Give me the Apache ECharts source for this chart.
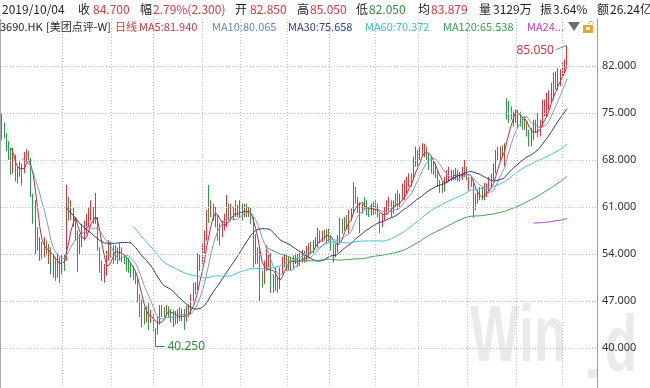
<!DOCTYPE html>
<html><head><meta charset="utf-8">
<script src="https://cdn.jsdelivr.net/npm/echarts@6/dist/echarts.min.js"></script>
<style>html,body{margin:0;padding:0;background:#fff}#c{width:650px;height:388px}</style>
</head><body><div id="c"></div>
<script>
// ---- daily candles, 2018/09/20 .. 2019/10/04 ----
const openP = [
74.0,72.8,71.5,70.0,68.5,66.5,68.5,65.5,66.2,67.0,
66.5,68.5,69.2,68.0,62.5,59.0,56.5,54.2,54.5,54.0,
55.0,54.0,54.5,52.0,53.0,52.5,53.0,52.0,53.5,53.0,
61.0,59.8,60.5,59.0,57.0,54.5,55.5,56.5,57.5,58.5,
59.5,60.5,59.0,59.0,54.5,51.5,50.5,51.0,53.5,55.0,
54.5,54.0,54.5,53.5,54.5,53.5,53.0,52.5,52.0,51.5,
51.0,50.0,47.5,45.5,45.2,44.0,45.5,44.2,45.0,40.8,
42.5,44.0,46.0,45.5,45.0,46.0,45.5,44.5,45.0,44.0,
45.0,44.5,45.5,44.2,46.0,45.0,47.5,48.5,49.0,52.0,
53.0,54.5,56.5,62.0,60.0,61.0,60.5,59.5,58.0,57.0,
58.0,59.0,60.5,59.5,60.0,59.5,60.5,60.0,61.0,60.0,
60.5,60.0,60.5,59.0,53.0,54.5,53.0,51.0,50.0,52.0,
52.5,53.0,50.5,49.5,50.0,49.0,51.5,53.0,53.5,52.5,
53.0,52.0,53.0,53.5,52.5,53.5,54.0,53.0,54.5,55.0,
54.5,55.5,56.0,57.0,56.0,57.0,56.5,57.5,56.5,55.5,
54.0,54.5,56.0,58.5,58.0,59.0,58.5,59.5,60.0,63.5,
62.0,58.5,60.5,62.0,61.5,60.5,60.0,61.5,60.5,61.0,
60.0,58.5,59.5,60.5,61.0,61.5,60.5,61.5,62.0,61.5,
62.5,63.0,63.5,64.5,65.5,65.0,67.5,68.5,68.0,69.0,
68.8,69.5,69.0,67.5,67.0,66.5,66.0,64.5,64.0,63.5,
65.0,65.5,66.0,65.8,65.5,66.0,65.0,65.5,66.0,66.5,
64.5,65.0,64.5,61.5,62.0,62.5,63.5,62.5,63.0,63.5,
64.5,65.0,66.5,68.5,69.0,70.0,69.3,77.0,76.5,75.5,
74.0,75.0,74.5,75.0,74.0,73.5,73.5,72.0,71.0,71.5,
72.5,74.0,72.5,73.0,75.0,75.5,76.0,77.0,78.0,79.0,
80.0,80.0,80.5,81.8,82.85];
const closeP = [
72.5,71.8,70.0,68.5,66.2,69.0,65.2,66.0,67.0,66.5,
68.8,69.0,68.5,63.0,59.5,57.0,55.5,54.5,54.0,55.5,
54.5,54.5,52.0,53.0,52.5,53.0,52.0,53.5,52.5,61.0,
60.0,60.5,59.0,57.0,54.5,55.5,56.5,57.5,58.5,59.5,
60.5,59.0,60.5,55.0,51.5,50.5,51.0,53.5,55.0,54.5,
54.0,54.5,53.5,54.5,53.5,53.0,52.5,52.0,51.5,51.0,
50.0,47.5,45.5,45.0,44.0,45.5,44.5,45.0,43.0,42.0,
44.0,45.0,45.5,45.0,46.0,45.5,44.5,45.0,44.0,45.0,
44.5,45.5,44.0,46.0,45.0,47.5,48.5,49.0,52.0,53.0,
54.5,56.5,59.5,60.0,61.0,60.5,59.5,58.0,57.0,58.0,
59.0,60.5,59.5,60.0,59.5,60.5,60.0,61.0,60.0,60.5,
60.0,60.5,59.0,55.0,54.5,53.0,51.0,50.0,52.0,52.5,
53.0,50.5,49.5,50.0,49.0,51.5,53.0,53.5,53.0,53.0,
52.0,53.0,53.5,52.5,53.5,54.0,53.0,54.5,55.0,54.5,
55.5,56.0,57.0,56.0,57.0,56.5,57.5,56.5,55.5,54.0,
54.5,56.0,58.5,58.0,59.0,58.5,59.5,60.0,64.0,62.0,
61.0,60.5,61.0,61.5,60.5,60.0,61.0,60.5,61.0,60.0,
58.5,59.5,60.5,61.0,61.5,60.5,61.5,62.0,61.5,62.5,
63.0,63.5,64.5,65.5,65.0,67.5,68.5,68.0,69.0,70.0,
69.5,69.0,67.5,67.0,66.5,66.0,64.5,64.0,63.5,65.0,
66.0,66.0,65.5,65.5,66.0,65.5,65.5,66.0,66.5,66.0,
65.0,64.5,61.5,62.0,62.5,63.0,63.0,63.0,63.5,64.5,
65.0,66.5,68.5,69.0,69.5,69.5,70.0,76.0,75.5,75.0,
75.0,74.5,75.0,74.0,73.5,74.0,72.0,71.0,71.5,72.5,
73.6,72.5,73.0,75.0,76.0,76.0,77.2,78.3,79.2,80.25,
80.2,80.6,81.8,82.4,84.7];
const lowP = [
71.0,71.2,69.3,68.0,65.8,66.0,64.8,64.5,65.5,64.2,
66.0,67.8,68.0,62.5,58.5,54.0,54.5,53.0,53.2,53.5,
53.8,52.5,51.0,50.5,50.0,50.5,49.7,51.0,51.5,53.0,
59.0,59.0,58.0,56.0,51.3,54.0,55.0,56.0,57.0,58.0,
59.0,58.5,58.5,54.5,51.2,50.0,49.7,50.8,53.0,53.5,
52.5,53.0,52.5,53.0,52.8,52.5,51.4,51.2,50.5,50.1,
49.5,46.8,44.6,43.1,43.5,43.8,42.7,43.7,42.5,40.25,
42.0,43.5,44.6,44.6,44.8,44.5,43.8,43.1,43.5,43.6,
44.0,44.0,42.7,43.9,44.6,45.0,47.0,48.0,48.6,51.5,
52.5,54.1,56.0,58.6,59.5,59.0,58.0,56.0,55.3,56.5,
57.5,58.0,59.0,59.0,59.0,59.5,59.5,59.5,59.0,59.5,
59.5,59.5,58.5,52.0,52.5,52.5,47.0,49.0,49.5,51.5,
52.0,48.2,48.2,48.5,48.2,48.8,51.0,52.0,51.6,51.6,
51.6,51.8,52.5,52.0,52.2,52.7,52.7,52.8,53.6,54.0,
54.1,55.0,55.0,55.6,55.8,56.0,55.6,55.8,54.5,52.7,
53.5,54.2,55.6,57.0,57.5,57.8,57.1,59.0,60.0,61.5,
60.1,57.1,60.0,60.5,59.8,59.5,59.7,59.8,60.0,59.5,
57.1,58.0,59.0,60.0,60.5,59.5,60.0,61.0,60.6,61.0,
62.0,62.0,63.0,64.0,64.0,65.0,67.0,67.0,68.0,68.5,
68.4,68.0,66.5,66.0,65.8,65.3,64.0,63.1,63.1,63.3,
64.6,65.0,64.8,65.0,65.0,64.8,64.8,65.0,65.5,65.0,
63.5,64.0,59.4,60.5,61.5,62.0,62.0,62.0,62.5,63.1,
64.0,65.0,66.0,68.0,68.0,68.5,67.0,74.0,73.5,74.0,
73.0,73.5,72.8,73.0,72.5,72.5,71.5,70.0,70.0,71.0,
72.0,71.4,71.5,73.0,74.5,74.4,75.5,76.5,77.0,78.5,
78.4,79.0,80.4,81.0,82.05];
const highP = [
74.9,73.6,72.0,70.8,69.8,69.8,68.8,67.0,67.8,67.5,
69.2,69.6,69.4,68.3,63.0,62.0,58.0,56.5,55.8,56.5,
56.0,55.5,55.0,54.0,53.5,54.1,53.5,54.0,54.0,64.3,
62.5,62.0,61.0,59.5,57.5,57.0,58.5,59.0,60.0,61.0,
62.0,61.0,63.1,59.5,55.0,53.0,52.5,54.5,56.1,55.8,
55.3,55.3,55.0,55.6,55.0,54.0,53.6,53.4,52.7,52.2,
51.5,50.6,48.0,47.2,46.0,46.2,46.7,45.7,45.2,43.0,
44.6,46.4,46.4,46.1,46.4,46.2,45.8,45.6,45.5,45.8,
46.1,45.9,45.8,46.3,46.5,48.0,49.7,49.8,54.1,54.0,
55.6,57.5,60.6,64.3,62.0,61.5,61.0,59.8,58.6,59.0,
60.0,62.8,61.5,61.5,61.0,62.0,61.3,62.0,61.5,61.5,
61.5,61.0,61.0,59.5,57.0,55.0,55.0,51.5,53.0,55.3,
54.0,54.1,51.0,52.0,50.5,52.0,53.6,54.0,53.9,53.6,
53.6,53.8,54.1,54.0,54.2,54.6,54.5,55.2,55.6,55.8,
56.1,56.5,57.9,57.5,57.5,57.6,57.7,57.8,56.8,55.6,
55.5,56.8,59.4,59.2,59.5,59.8,60.6,60.8,64.7,64.0,
62.5,61.7,61.5,62.5,62.0,61.0,61.5,61.8,62.0,61.5,
60.1,60.0,61.0,62.0,62.5,62.0,62.0,63.0,63.5,63.0,
64.5,65.0,65.5,66.0,66.0,68.5,70.0,69.5,70.0,70.5,
70.4,70.0,69.0,68.5,68.0,67.5,66.5,65.0,64.8,65.5,
66.5,67.0,66.5,66.5,66.8,66.5,66.2,67.0,68.0,67.0,
65.5,65.5,65.0,63.0,63.5,64.0,64.0,64.6,64.5,65.5,
66.0,67.5,69.5,70.0,70.0,70.2,70.5,77.2,76.8,76.0,
75.2,75.5,75.5,75.2,74.4,74.5,73.8,72.5,72.8,74.0,
74.0,75.0,74.0,77.0,77.0,78.0,78.4,79.5,81.0,81.2,
81.7,81.5,82.5,83.0,85.05];

const maPeriods = [5, 10, 30, 60, 120, 240];
const yTicks = [40, 47, 54, 61, 68, 75, 82];
const monthStarts = [27, 49, 68, 90, 107, 128, 147, 168, 187, 209, 231, 252]; // first trading day of each month
const lowMark = { index: 69, value: 40.25, text: '40.250' };
const highMark = { index: 254, value: 85.05, text: '85.050' };

const header1Text = ['2019/10/04','收','84.700','幅','2.79%(2.300)','开','82.850','高','85.050','低','82.050','均','83.879','量','3129万','振','3.64%','额','26.24亿'];
const header2Text = ['3690.HK','[美团点评-W]','日线','MA5:81.940','MA10:80.065','MA30:75.658','MA60:70.372','MA120:65.538','MA24...'];

// ---- styling / layout ----
const RED = '#E2343A', GREEN = '#2E8F36', BLACK = '#1e1e1e';
const maLineColors = ['#B3323F', '#7B9BCB', '#27378F', '#3FC2D2', '#3BA24C', '#B83DC2'];
const maTextColors = ['#D2333B', '#5E8BC0', '#2C3D98', '#3DBCCE', '#35A04F', '#C03CC8'];
const header1Color = [BLACK,BLACK,RED,BLACK,RED,BLACK,RED,BLACK,RED,BLACK,GREEN,BLACK,RED,BLACK,BLACK,BLACK,BLACK,BLACK,BLACK];
const header1X = [2,78,93,140,153,235,250,297,310,356,369,418,431,479,493,540,553,597,610];
const header2Color = [BLACK,BLACK,RED].concat(maTextColors);
const header2X = [0,46,115,139,212,288,365,443,527];

const N = closeP.length;
const slots = N + 13;
const cats = [];
for (let i = 0; i < slots; i++) cats.push('k' + i);

const candles = openP.map((o, i) => [o, closeP[i], lowP[i], highP[i]]);
function movingAvg(n) {
  return closeP.map((_, i) => {
    if (i < n - 1) return '-';
    let s = 0;
    for (let k = i - n + 1; k <= i; k++) s += closeP[k];
    return +(s / n).toFixed(3);
  });
}

const gridLineStyle = { type: [1, 2], color: '#BEBEBE', width: 1 };
const maSeries = maPeriods.map((p, j) => ({
  type: 'line', name: 'MA' + p, data: movingAvg(p), showSymbol: false, symbol: 'none',
  lineStyle: { width: 1, color: maLineColors[j] }, itemStyle: { color: maLineColors[j] },
  z: 3, silent: true
}));

const graphics = [];
// watermark
graphics.push({ type: 'text', x: 470, y: 379, scaleX: 0.66, z: -10, silent: true,
  style: { text: 'Win', font: 'bold 80px "Liberation Sans"', fill: '#EAEAEA', textVerticalAlign: 'bottom' } });
graphics.push({ type: 'rect', z: -10, silent: true, shape: { x: 588, y: 369, width: 9, height: 9 }, style: { fill: '#EAEAEA' } });
graphics.push({ type: 'text', x: 605, y: 389, scaleX: 0.66, z: -10, silent: true,
  style: { text: 'd', font: 'bold 80px "Liberation Sans"', fill: '#EAEAEA', textVerticalAlign: 'bottom' } });
// left border
graphics.push({ type: 'line', z: 1, silent: true, shape: { x1: 0.5, y1: 19, x2: 0.5, y2: 388 }, style: { stroke: '#A8A8A8', lineWidth: 1 } });
// header texts
header1Text.forEach((t, i) => graphics.push({ type: 'text', x: header1X[i], y: 9, z: 20,
  style: { text: t, fill: header1Color[i], font: '12px "Noto Sans CJK SC"', textVerticalAlign: 'middle' } }));
header2Text.forEach((t, i) => graphics.push({ type: 'text', x: header2X[i], y: 27, z: 20,
  style: { text: t, fill: header2Color[i], font: '11px "Noto Sans CJK SC"', textVerticalAlign: 'middle' } }));
graphics.push({ type: 'polygon', z: 20, shape: { points: [[568, 22], [580, 22], [574, 31]] }, style: { fill: '#6E6E6E' } });
graphics.push({ type: 'rect', z: 20, shape: { x: 583, y: 25, width: 10, height: 8 }, style: { fill: '#E9A431' } });
graphics.push({ type: 'rect', z: 21, shape: { x: 586, y: 27, width: 4, height: 3 }, style: { fill: '#FFF3D6' } });
graphics.push({ type: 'arc', z: 20, shape: { cx: 591, cy: 24, r: 2.5, startAngle: Math.PI, endAngle: 2 * Math.PI }, style: { stroke: '#B5B5B5', fill: null, lineWidth: 1 } });

const option = {
  animation: false,
  backgroundColor: '#fff',
  grid: { left: 1, right: 53, top: 19, bottom: -7, outerBoundsMode: 'none', containLabel: false },
  xAxis: { type: 'category', data: cats, boundaryGap: true,
    axisLine: { show: false }, axisTick: { show: false }, axisLabel: { show: false }, splitLine: { show: false } },
  yAxis: { type: 'value', position: 'right', min: 33, max: 89, interval: 7, z: 5,
    axisLine: { show: true, lineStyle: { color: '#9C9C9C', width: 1 } },
    axisTick: { show: false },
    axisLabel: { margin: 5, color: '#333', fontSize: 11, fontFamily: 'Noto Sans',
      formatter: v => yTicks.includes(v) ? v.toFixed(3) : '' },
    splitLine: { show: false } },
  graphic: { elements: graphics },
  series: [
    { type: 'line', data: [], z: 0, silent: true,
      markLine: { silent: true, symbol: 'none', animation: false, label: { show: false }, lineStyle: gridLineStyle,
        emphasis: { disabled: true },
        data: yTicks.map(v => ({ yAxis: v })).concat(monthStarts.map(i => ({ xAxis: cats[i] }))) } },
    { type: 'candlestick', data: candles, barWidth: 1, z: 2, silent: true,
      itemStyle: { color: RED, color0: '#22A046', borderColor: RED, borderColor0: '#22A046', borderWidth: 1 },
      markLine: { silent: true, symbol: 'none', animation: false, emphasis: { disabled: true },
        data: [
          [ { coord: [cats[lowMark.index], lowMark.value], lineStyle: { color: '#2E8F4A', width: 1, type: 'solid' },
              label: { show: true, position: 'end', formatter: lowMark.text, color: '#2E8F36', fontSize: 12, fontFamily: 'Noto Sans', distance: 3 } },
            { coord: [cats[lowMark.index + 4], lowMark.value] } ],
          [ { coord: [cats[highMark.index], highMark.value], lineStyle: { color: '#3DA7B8', width: 1, type: 'solid' },
              label: { show: true, position: 'end', formatter: highMark.text, color: '#D9343C', fontSize: 12, fontFamily: 'Noto Sans', distance: 2 } },
            { coord: [cats[highMark.index - 5], highMark.value - 0.6] } ]
        ] } }
  ].concat(maSeries)
};
const chart = echarts.init(document.getElementById('c'), null, { renderer: 'canvas' });
chart.setOption(option);
</script></body></html>
